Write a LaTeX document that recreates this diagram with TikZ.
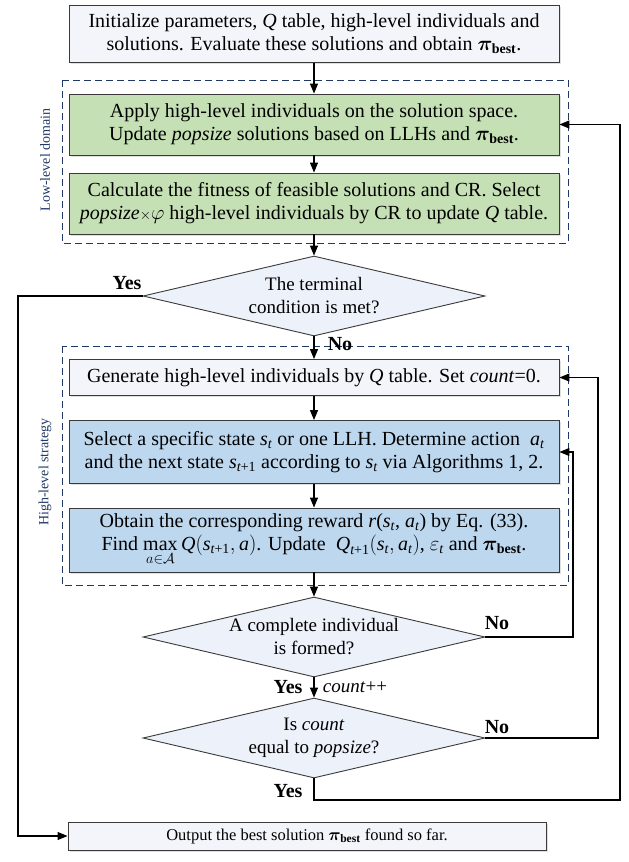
\documentclass[tikz,border=0pt]{standalone}
\usepackage{amsmath,bm}
\usepackage{fontspec}
\setmainfont{Liberation Serif}
\usetikzlibrary{shapes.geometric,arrows.meta,shadows}

\definecolor{boxline}{HTML}{3A3A3A}
\definecolor{navy}{HTML}{203864}
\definecolor{leafgreen}{HTML}{C5E0B4}
\definecolor{skyblue}{HTML}{BDD7EE}
\definecolor{paleblue}{HTML}{F3F5FB}
\definecolor{palediamond}{HTML}{EDF1F9}

\newcommand{\flowfont}{\fontsize{20}{23}\selectfont}
\newcommand{\decfont}{\fontsize{19}{23}\selectfont}
\newcommand{\outfont}{\fontsize{16.5}{20}\selectfont}
\newcommand{\regionfont}{\fontsize{14}{16}\selectfont}
\newcommand{\vi}[1]{\textit{#1}}
\newcommand{\pibest}{$\bm{\pi}_{\mathbf{best}}$}

\tikzset{
  basebox/.style={draw=boxline, line width=0.9pt, align=center, font=\flowfont,
    inner sep=2pt, minimum width=490pt,
    drop shadow={shadow xshift=1.5pt, shadow yshift=-1.5pt, opacity=0.25}},
  plainbox/.style={basebox, fill=paleblue},
  greenbox/.style={basebox, fill=leafgreen},
  bluebox/.style={basebox, fill=skyblue},
  decision/.style={diamond, draw=boxline, line width=0.9pt, fill=palediamond,
    minimum width=342pt, minimum height=80pt, inner sep=0pt},
  dectext/.style={align=center, font=\decfont, inner sep=0pt},
  flow/.style={draw=black, line width=1.1pt, -{Triangle[length=10pt,width=8pt]}},
  tag/.style={font=\flowfont\bfseries, inner sep=0pt},
  region/.style={draw=navy, dash pattern=on 7pt off 4pt, line width=1pt},
  regionlabel/.style={text=navy, font=\regionfont, rotate=90, inner sep=0pt},
}

\begin{document}
\begin{tikzpicture}[x=1pt,y=-1pt]
\useasboundingbox (0,0) rectangle (629,862);

% dashed domain frames
\draw[region] (62,80) rectangle (568,243);
\draw[region] (62,346) rectangle (568,585);
\node[regionlabel] (lowlab) at (45,160) {Low-level domain};
\node[regionlabel] (highlab) at (45,472) {High-level strategy};

% process boxes
\node[plainbox, minimum height=57pt] (init) at (314,34)
  {Initialize parameters, \vi{Q} table, high-level individuals and\\
   solutions. Evaluate these solutions and obtain \pibest.};
\node[greenbox, minimum height=61pt] (app) at (314,124.5)
  {Apply high-level individuals on the solution space.\\
   Update \vi{popsize} solutions based on LLHs and \pibest.};
\node[greenbox, minimum height=61pt] (calc) at (314,203.5)
  {Calculate the fitness of feasible solutions and CR. Select\\
   \vi{popsize}{\fontsize{14}{14}\selectfont$\times$}$\varphi$ high-level individuals by CR to update \vi{Q} table.};

\node[decision] (d1) at (314,296) {};
\node[dectext] (d1t) at (d1) {The terminal\\condition is met?};

\node[plainbox, minimum height=36pt] (gen) at (314,377.5)
  {Generate high-level individuals by \vi{Q} table. Set \vi{count}=0.};
\node[bluebox, minimum height=63pt] (sel) at (314,452)
  {Select a specific state $\vi{s}_{\vi{t}}$ or one LLH. Determine action \ $\vi{a}_{\vi{t}}$\\
   and the next state $\vi{s}_{\vi{t}\text{+1}}$ according to $\vi{s}_{\vi{t}}$ via Algorithms 1, 2.};
\node[bluebox, minimum height=64pt] (obt) at (314,540)
  {Obtain the corresponding reward \vi{r}($\vi{s}_{\vi{t}}$, $\vi{a}_{\vi{t}}$) by Eq. (33).\\
   Find $\max\limits_{a\in\mathcal{A}} \vi{Q}(\vi{s}_{\vi{t}\text{+1}},\vi{a})$. Update \ $\vi{Q}_{\vi{t}\text{+1}}(\vi{s}_{\vi{t}},\vi{a}_{\vi{t}})$, $\varepsilon_{\vi{t}}$ and \pibest.};

\node[decision] (d2) at (314,637) {};
\node[dectext] (d2t) at (d2) {A complete individual\\is formed?};
\node[decision] (d3) at (314,738) {};
\node[dectext] (d3t) at (d3) {Is \vi{count}\\equal to \vi{popsize}?};

\node[plainbox, font=\outfont, minimum width=478pt, minimum height=28pt] (out) at (307,836)
  {Output the best solution \pibest{} found so far.};

% rails for the loop-back connectors
\coordinate (leftrail) at (18,0);
\coordinate (rail2) at (573,0);
\coordinate (rail3) at (598,0);
\coordinate (outer) at (620,800);

% main flow
\draw[flow] (init) -- (app);
\draw[flow] (app) -- (calc);
\draw[flow] (calc) -- (d1);
\draw[flow] (d1) -- (gen);
\draw[flow] (gen) -- (sel);
\draw[flow] (sel) -- (obt);
\draw[flow] (obt) -- (d2);
\draw[flow] (d2) -- (d3);

% loops and exits
\draw[flow] (d2.east) -- (d2.east -| rail2) |- (sel.east);
\draw[flow] (d3.east) -- (d3.east -| rail3) |- (gen.east);
\draw[flow] (d3.south) |- (outer) |- (app.east);
\draw[flow] (d1.west) -- (d1.west -| leftrail) |- (out.west);

% branch labels
\node[tag] (y1) at (127,283) {Yes};
\node[tag] (n1) at (340,344) {No};
\node[tag] (n2) at (497,623) {No};
\node[tag] (y2) at (288,687) {Yes};
\node[font=\decfont, inner sep=0pt] (cnt) at (355,687) {\vi{count}++};
\node[tag] (n3) at (497,727) {No};
\node[tag] (y3) at (288,791) {Yes};
\end{tikzpicture}
\end{document}
